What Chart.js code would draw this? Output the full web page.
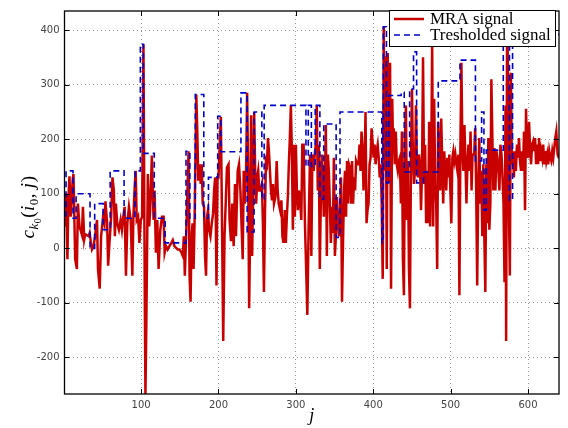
<!DOCTYPE html>
<html>
<head>
<meta charset="utf-8">
<title>MRA signal</title>
<script src="https://cdn.jsdelivr.net/npm/chart.js@4.4.1/dist/chart.umd.min.js"></script>
<style>
  html, body { margin: 0; padding: 0; background: #fff; }
  #wrap { position: relative; width: 568px; height: 428px; }
</style>
</head>
<body>
<div id="wrap"><canvas id="chart" width="568" height="428"></canvas></div>
<script>
// tick labels
const xTicks = [100, 200, 300, 400, 500, 600];
const yTicks = [-200, -100, 0, 100, 200, 300, 400];

// MRA signal (red)
const mraX = [1, 2, 3, 4.8, 6, 7.4, 9, 11.7, 12.6, 14.8, 17, 18.3, 20.4, 23.5, 24.8, 26.5, 27.8, 30, 32.2, 33.5,
  35.2, 36.5, 38.7, 40.9, 43, 44.3, 46.5, 48.3, 50.9, 52.6, 53.9, 56.1, 57.4, 59.1, 61.3, 63, 64.8, 66.1, 67.4, 69.1,
  71.3, 73.5, 75.2, 77, 78.7, 80.4, 82.2, 84.3, 86.5, 88.7, 90, 91.7, 93, 94.3, 96.1, 97.8, 99.6, 101.3, 103, 104.8,
  105.6, 106.8, 108.7, 110.4, 111.7, 113.9, 116.1, 117.4, 119.1, 120.9, 122.6, 124.8, 127, 129.1, 130.4, 132.2, 134.3, 136.5, 139.1, 140.9,
  143, 145.2, 147.4, 149.6, 152.2, 153.9, 155.2, 156.5, 158.3, 160, 161.3, 162.6, 163.9, 165.2, 166.5, 167.8, 169.1, 171.3, 172.6, 173.9,
  175.7, 177, 178.3, 179.6, 181.3, 182.6, 183.9, 185.2, 186.5, 187.8, 189.6, 191.3, 193, 194.3, 195.7, 196.5, 197.4, 198.7, 200, 203,
  204.3, 206.1, 207.8, 209.6, 210.9, 213, 214.3, 216.1, 217.8, 219.6, 221.3, 222.6, 224.8, 226.5, 228.3, 230, 231.3, 232.6, 233.9, 235.7,
  237, 238.3, 239.6, 240.9, 242.2, 243.5, 244.8, 246.1, 247.4, 248.7, 250, 251.3, 252.6, 254.3, 256.1, 257.4, 258.7, 260, 261.3, 262.6,
  263.9, 265.2, 266.5, 267.8, 269.1, 270.4, 271.7, 273.5, 275.2, 276.5, 277.8, 279.6, 281.3, 282.6, 283.9, 285.7, 287, 288.3, 289.6, 290.9,
  292.2, 293.5, 294.8, 296.1, 297.4, 298.7, 300, 301.3, 302.6, 303.9, 305.7, 307, 308.3, 310, 311.7, 313.5, 314.8, 316.5, 318.3, 320,
  321.3, 323, 324.3, 325.7, 327, 328.3, 329.6, 330.9, 332.2, 333.5, 334.8, 336.1, 337.4, 338.7, 340, 341.3, 342.6, 343.9, 345.2, 346.5,
  347.8, 349.1, 350.4, 351.7, 353, 354.3, 355.7, 357, 358.3, 359.6, 360.9, 362.2, 363.5, 364.8, 366.1, 367.4, 368.7, 370, 371.3, 372.6,
  373.9, 375.2, 376.5, 377.8, 379.1, 380.9, 382.2, 383.5, 384.8, 386.1, 387.4, 388.7, 390, 391.3, 392.6, 393.9, 395.2, 396.5, 397.8, 399.1,
  400.4, 401.7, 403, 404.3, 405.7, 407, 408.3, 409.6, 410.9, 412.2, 413.5, 414.8, 416.1, 417.4, 418.7, 420, 421.7, 423, 424.5, 425.5,
  426.5, 427.8, 429.1, 430.4, 431.7, 433, 434.3, 435.7, 437, 438.3, 439.6, 440.9, 442.2, 443.5, 444.8, 446.1, 447.4, 448.7, 450, 451.3,
  452.6, 453.9, 455.2, 456.5, 457.8, 459.1, 460.4, 461.7, 463, 464.3, 465.7, 467, 468.3, 469.6, 470.9, 472.2, 473.5, 474.8, 476.1, 477.4,
  478.7, 480, 481.3, 482.6, 483.9, 485.2, 486.5, 487.8, 489.1, 490.4, 491.7, 493, 494.3, 495.7, 497, 498.3, 499.6, 500.9, 502.2, 503.5,
  504.8, 506.1, 507.4, 508.7, 510, 511.3, 512.6, 513.9, 515.2, 516.5, 517.8, 519.1, 520.4, 521.7, 523, 524.3, 525.7, 527, 528.3, 530.4,
  531.7, 533, 534.3, 535.7, 537, 538.3, 539.6, 540.9, 542.2, 543.5, 544.8, 546.1, 547.4, 548.7, 550, 551.3, 552.6, 553.9, 555.2, 556.5,
  557.8, 559.1, 560.4, 561.7, 563, 564.3, 565.7, 567, 568.3, 569.6, 570.9, 571.7, 573, 574.2, 575.2, 576.5, 577.8, 579.1, 580.4, 581.7,
  583, 584.3, 585.7, 587, 588.3, 589.6, 590.9, 592.2, 593.5, 594.8, 596.1, 597.4, 598.7, 600, 601.3, 602.6, 603.9, 605.2, 606.5, 607.8,
  609.1, 610.4, 611.7, 613, 614.3, 615.7, 617, 618.3, 619.6, 620.9, 622.2, 623.5, 624.8, 626.1, 627.4, 628.7, 630, 631.3, 632.6, 633.9,
  635.2, 636.5, 638.2, 640];
const mraY = [80, 40, 100, -20, 90, 132, 58, 128, 136, -20, -38, 82, 40, 25, 76, 16, 26, 24, 22, 28,
  10, -2, 4, 28, 52, -38, -74, 22, 58, 46, 86, 46, -32, 10, 58, 130, 106, 22, 82, 46,
  34, 52, 34, 58, 76, -50, 46, 76, 52, -50, 58, 112, 142, 52, 58, 10, 52, 58, 374, -100,
  -267, -134, 136, 40, 70, 170, 52, 106, -8, 52, -38, 34, 58, 58, -8, 4, -2, 4, 10, 15,
  4, 1, -2, -2, -8, -14, 22, -50, 28, 106, 178, -50, -98, 22, 46, -38, 52, 282, 214, 124,
  154, 118, 154, 82, 76, -14, -50, 58, 70, 34, 22, 46, 64, 106, 130, 58, -68, 130, 130, 241,
  82, -170, 22, 94, 148, 154, 52, 13, 82, 4, 118, 22, 142, 154, 106, 34, -20, 142, 82, 142,
  285, 142, -110, 34, 244, -14, 106, 250, 142, 82, 130, 142, 106, 106, 118, 46, -80, 58, 160, 154,
  202, 178, 142, 106, 88, 118, 82, 94, 160, 106, 82, 70, 88, 22, 10, 70, 10, 58, 94, 154,
  202, 262, 178, 34, 190, 58, 190, 106, 70, 106, 82, 52, 190, 190, 46, -50, -122, 40, 172, -14,
  172, 142, 172, 190, 262, 106, 190, -38, 82, 172, 130, 58, 106, 226, -14, 172, 142, 82, 10, 76,
  28, 166, -14, 22, 94, 58, 22, 58, 130, -98, 10, 106, 142, 58, 160, 82, 154, 148, 82, 160,
  82, 130, 106, 160, 154, 154, 190, 142, 214, 184, 106, 154, 250, 46, 70, 82, 154, 166, 220, 196,
  166, 190, 154, 178, 190, 166, 130, 154, 82, -56, 406, 142, 352, -38, 358, 120, 340, -74, 274, 190,
  220, 154, 214, 154, 142, 160, 166, 82, 214, -20, -86, 202, 262, 52, 160, -38, -110, 160, 292, 160,
  118, 142, 262, 142, 130, 172, 154, 70, 142, 350, 118, 190, 46, 142, 46, 232, 40, 142, 376, 40,
  274, 118, 82, -38, 232, 160, 106, 238, 160, 82, 178, 142, 106, 166, 130, 172, 106, 46, 166, 178,
  160, 172, 154, 142, 172, -86, 190, 340, 172, 142, 226, 160, 82, 154, 190, 142, 214, 106, 172, 172,
  220, 106, -68, 118, 202, 82, 142, 22, 154, 22, -80, 154, 46, 202, 34, 82, 310, 202, 106, 184,
  106, 178, 166, 142, 106, 190, 172, 130, 82, -62, 262, -170, 435, 300, 82, -50, 322, 154, 178, 130,
  178, 142, 190, 166, 202, 160, 142, 178, 142, 214, 70, 256, 178, 166, 232, 184, 154, 190, 196, 178,
  202, 154, 190, 154, 202, 160, 178, 166, 190, 154, 178, 160, 172, 154, 178, 166, 160, 178, 166, 184,
  202, 214, 172, 165];

// Tresholded signal (blue): block start and level
const thrX = [1, 3, 12, 16, 34, 40, 51, 60, 78, 92, 99, 103, 117, 131, 158, 163, 170, 181, 187, 199,
  203, 229, 237, 246, 256, 259, 313, 316, 320, 325, 331, 336, 352, 357, 411, 413, 417, 420, 436, 440,
  447, 452, 456, 465, 484, 512, 532, 540, 543, 546, 568, 576, 580, 640];
const thrY = [60, 142, 55, 100, 0, 82, 34, 142, 55, 142, 374, 174, 55, 10, 178, 55, 282, 55, 130, 242,
  177, 285, 30, 250, 90, 262, 150, 262, 150, 262, 90, 228, 20, 250, 10, 406, 120, 280, 286, 140,
  292, 360, 120, 140, 307, 345, 160, 250, 70, 180, 435, 88, 392, 392];

const legendItems = ['MRA signal', 'Tresholded signal'];
const red = '#c80000';
const blue = '#0000cc';

const toPoints = (xs, ys) => xs.map((x, i) => ({ x: x, y: ys[i] }));

// frame, inward ticks, axis titles and the boxed legend
const matlabLook = {
  id: 'matlabLook',
  afterDraw(chart) {
    const ctx = chart.ctx;
    const a = chart.chartArea;
    const sx = chart.scales.x, sy = chart.scales.y;
    ctx.save();

    ctx.strokeStyle = '#000';
    ctx.lineWidth = 1;
    ctx.beginPath();
    xTicks.forEach(v => {
      const p = Math.round(sx.getPixelForValue(v)) + 0.5;
      ctx.moveTo(p, a.bottom); ctx.lineTo(p, a.bottom - 5);
      ctx.moveTo(p, a.top); ctx.lineTo(p, a.top + 5);
    });
    yTicks.forEach(v => {
      const p = Math.round(sy.getPixelForValue(v)) + 0.5;
      ctx.moveTo(a.left, p); ctx.lineTo(a.left + 5, p);
      ctx.moveTo(a.right, p); ctx.lineTo(a.right - 5, p);
    });
    ctx.stroke();
    ctx.lineWidth = 1.3;
    ctx.strokeRect(a.left, a.top, a.right - a.left, a.bottom - a.top);

    // x title
    ctx.fillStyle = '#000';
    ctx.font = 'italic 18px "Liberation Serif"';
    ctx.textAlign = 'center';
    ctx.textBaseline = 'alphabetic';
    ctx.fillText('j', (a.left + a.right) / 2, 421);

    // y title c_{k_0}(i_0, j)
    const parts = [
      ['c', 'italic 19px "Liberation Serif"', 0],
      ['k', 'italic 13px "Liberation Serif"', 4],
      ['0', '10px "Liberation Serif"', 7],
      ['(', '19px "Liberation Serif"', 0],
      ['i', 'italic 19px "Liberation Serif"', 0],
      ['0', '13px "Liberation Serif"', 4],
      [', ', '19px "Liberation Serif"', 0],
      ['j', 'italic 19px "Liberation Serif"', 0],
      [')', '19px "Liberation Serif"', 0]
    ];
    let total = 0;
    parts.forEach(p => { ctx.font = p[1]; total += ctx.measureText(p[0]).width + 0.5; });
    ctx.translate(34, 207);
    ctx.rotate(-Math.PI / 2);
    ctx.textAlign = 'left';
    let cx = -total / 2;
    parts.forEach(p => {
      ctx.font = p[1];
      ctx.fillText(p[0], cx, p[2]);
      cx += ctx.measureText(p[0]).width + 0.5;
    });
    ctx.setTransform(1, 0, 0, 1, 0, 0);

    // legend box
    const lx = 389, ly = 10, lw = 166, lh = 36;
    ctx.fillStyle = '#fff';
    ctx.fillRect(lx, ly, lw, lh);
    ctx.strokeStyle = '#000';
    ctx.lineWidth = 1;
    ctx.strokeRect(lx + 0.5, ly + 0.5, lw, lh);

    ctx.lineWidth = 2.5;
    ctx.strokeStyle = red;
    ctx.beginPath(); ctx.moveTo(394, 19); ctx.lineTo(424, 19); ctx.stroke();
    ctx.lineWidth = 1.6;
    ctx.strokeStyle = blue;
    ctx.setLineDash([6, 4]);
    ctx.beginPath(); ctx.moveTo(394, 35); ctx.lineTo(424, 35); ctx.stroke();
    ctx.setLineDash([]);

    ctx.fillStyle = '#000';
    ctx.font = '17px "Liberation Serif"';
    ctx.textAlign = 'left';
    ctx.fillText(legendItems[0], 430, 24);
    ctx.fillText(legendItems[1], 430, 40);
    ctx.restore();
  }
};

const gridLook = {
  display: true,
  color: '#9a9a9a',
  lineWidth: 1,
  drawTicks: false
};

new Chart(document.getElementById('chart'), {
  type: 'line',
  data: {
    datasets: [
      {
        label: legendItems[1],
        data: toPoints(thrX, thrY),
        borderColor: blue,
        borderWidth: 1.6,
        borderDash: [6, 4],
        stepped: 'before',
        pointRadius: 0,
        fill: false,
        order: 0
      },
      {
        label: legendItems[0],
        data: toPoints(mraX, mraY),
        borderColor: red,
        borderWidth: 2.5,
        pointRadius: 0,
        tension: 0,
        fill: false,
        order: 1
      }
    ]
  },
  options: {
    responsive: false,
    animation: false,
    layout: { padding: { top: 4.5, right: 9, left: 0, bottom: 0 } },
    plugins: {
      legend: { display: false },
      tooltip: { enabled: false }
    },
    scales: {
      x: {
        type: 'linear',
        min: 1,
        max: 640,
        afterBuildTicks: scale => { scale.ticks = xTicks.map(v => ({ value: v })); },
        afterFit: scale => { scale.height = 34; },
        grid: gridLook,
        border: { display: false, dash: [1, 3] },
        ticks: {
          padding: 5,
          color: '#444',
          font: { family: 'DejaVu Sans', size: 10 },
          maxRotation: 0
        }
      },
      y: {
        min: -267,
        max: 435,
        afterBuildTicks: scale => { scale.ticks = yTicks.map(v => ({ value: v })); },
        afterFit: scale => { scale.width = 64.5; },
        grid: gridLook,
        border: { display: false, dash: [1, 3] },
        ticks: {
          padding: 5,
          color: '#444',
          font: { family: 'DejaVu Sans', size: 10 }
        }
      }
    }
  },
  plugins: [matlabLook]
});
</script>
</body>
</html>
